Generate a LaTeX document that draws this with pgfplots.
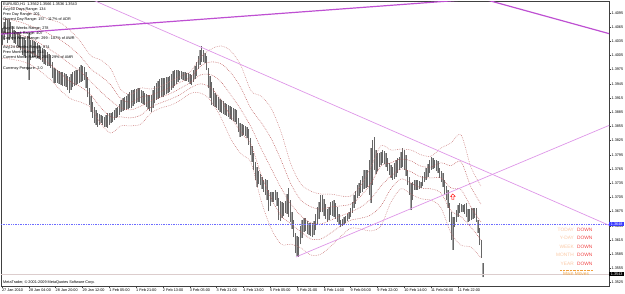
\documentclass[border=0pt]{standalone}
\usepackage{fontspec}
\setmainfont{Liberation Sans}
\usepackage{pgfplots}
\usepackage{pgfplotstable}
\pgfplotsset{compat=1.18}

\definecolor{band}{RGB}{185,80,80}
\definecolor{tlthick}{RGB}{190,80,210}
\definecolor{tlthin}{RGB}{222,150,232}
\definecolor{bidblue}{RGB}{60,60,255}
\definecolor{peach}{RGB}{250,200,165}
\definecolor{downred}{RGB}{240,70,70}
\definecolor{movesor}{RGB}{240,160,60}
\definecolor{bidline}{RGB}{220,205,205}

\newcommand{\tf}{\fontsize{3.8}{4.5}\selectfont}
\newcommand{\mf}{\fontsize{4.8}{5.5}\selectfont}

\pgfdeclareplotmark{uparrowmark}{%
  \pgfpathmoveto{\pgfpoint{0pt}{3pt}}%
  \pgfpathlineto{\pgfpoint{-2.2pt}{0.6pt}}%
  \pgfpathlineto{\pgfpoint{-1pt}{0.6pt}}%
  \pgfpathlineto{\pgfpoint{-1pt}{-2.6pt}}%
  \pgfpathlineto{\pgfpoint{1pt}{-2.6pt}}%
  \pgfpathlineto{\pgfpoint{1pt}{0.6pt}}%
  \pgfpathlineto{\pgfpoint{2.2pt}{0.6pt}}%
  \pgfpathclose
  \pgfusepathqfillstroke}

\pgfplotstableread{
i h l
0 1.4063 1.4027
1 1.4076 1.4037
2 1.4084 1.4052
3 1.4080 1.4031
4 1.4080 1.4037
5 1.4076 1.4044
6 1.4067 1.4037
7 1.4059 1.4031
8 1.4056 1.4029
9 1.4054 1.4025
10 1.4052 1.4023
11 1.4048 1.4016
12 1.4044 1.4006
13 1.4042 1.4004
14 1.4037 1.3999
15 1.4046 1.3974
16 1.4052 1.3953
17 1.4037 1.3995
18 1.4037 1.4002
19 1.4035 1.4002
20 1.4033 1.4002
21 1.4031 1.3999
22 1.4027 1.3997
23 1.4023 1.3995
24 1.4021 1.3991
25 1.4018 1.3987
26 1.4016 1.3985
27 1.4012 1.3983
28 1.4008 1.3983
29 1.4006 1.3978
30 1.3991 1.3957
31 1.3978 1.3947
32 1.3976 1.3947
33 1.3974 1.3947
34 1.3972 1.3945
35 1.3970 1.3942
36 1.3970 1.3940
37 1.3968 1.3940
38 1.3966 1.3938
39 1.3961 1.3932
40 1.3959 1.3925
41 1.3966 1.3932
42 1.3970 1.3938
43 1.3972 1.3940
44 1.3974 1.3942
45 1.3974 1.3945
46 1.3980 1.3947
47 1.3985 1.3949
48 1.3983 1.3951
49 1.3980 1.3953
50 1.3970 1.3936
51 1.3959 1.3917
52 1.3936 1.3900
53 1.3919 1.3885
54 1.3906 1.3873
55 1.3896 1.3862
56 1.3890 1.3858
57 1.3883 1.3854
58 1.3881 1.3858
59 1.3879 1.3862
60 1.3877 1.3858
61 1.3875 1.3854
62 1.3879 1.3854
63 1.3883 1.3852
64 1.3883 1.3858
65 1.3883 1.3862
66 1.3885 1.3864
67 1.3890 1.3868
68 1.3894 1.3873
69 1.3896 1.3875
70 1.3902 1.3879
71 1.3911 1.3885
72 1.3915 1.3887
73 1.3917 1.3890
74 1.3919 1.3890
75 1.3923 1.3892
76 1.3928 1.3894
77 1.3932 1.3894
78 1.3932 1.3898
79 1.3934 1.3902
80 1.3934 1.3904
81 1.3936 1.3906
82 1.3936 1.3906
83 1.3932 1.3904
84 1.3930 1.3902
85 1.3925 1.3900
86 1.3923 1.3896
87 1.3921 1.3892
88 1.3921 1.3887
89 1.3921 1.3885
90 1.3932 1.3894
91 1.3940 1.3904
92 1.3947 1.3911
93 1.3951 1.3913
94 1.3955 1.3915
95 1.3957 1.3917
96 1.3957 1.3917
97 1.3957 1.3921
98 1.3959 1.3923
99 1.3959 1.3925
100 1.3961 1.3928
101 1.3966 1.3932
102 1.3972 1.3936
103 1.3974 1.3940
104 1.3974 1.3945
105 1.3974 1.3949
106 1.3972 1.3953
107 1.3972 1.3955
108 1.3970 1.3953
109 1.3970 1.3951
110 1.3968 1.3951
111 1.3968 1.3949
112 1.3966 1.3945
113 1.3964 1.3942
114 1.3974 1.3949
115 1.3983 1.3955
116 1.3991 1.3961
117 1.4004 1.3976
118 1.4016 1.3985
119 1.4025 1.3991
120 1.4016 1.3991
121 1.4010 1.3989
122 1.4004 1.3974
123 1.3978 1.3936
124 1.3961 1.3915
125 1.3949 1.3900
126 1.3936 1.3898
127 1.3925 1.3896
128 1.3921 1.3894
129 1.3917 1.3890
130 1.3913 1.3885
131 1.3911 1.3883
132 1.3909 1.3881
133 1.3904 1.3879
134 1.3902 1.3877
135 1.3900 1.3875
136 1.3898 1.3871
137 1.3896 1.3868
138 1.3894 1.3866
139 1.3892 1.3864
140 1.3890 1.3860
141 1.3873 1.3843
142 1.3862 1.3833
143 1.3860 1.3835
144 1.3858 1.3837
145 1.3856 1.3835
146 1.3854 1.3830
147 1.3849 1.3816
148 1.3830 1.3794
149 1.3813 1.3780
150 1.3799 1.3763
151 1.3780 1.3742
152 1.3769 1.3727
153 1.3761 1.3733
154 1.3754 1.3731
155 1.3748 1.3723
156 1.3742 1.3716
157 1.3744 1.3710
158 1.3742 1.3699
159 1.3721 1.3676
160 1.3716 1.3687
161 1.3716 1.3695
162 1.3716 1.3695
163 1.3721 1.3699
164 1.3716 1.3687
165 1.3704 1.3657
166 1.3697 1.3655
167 1.3695 1.3661
168 1.3693 1.3666
169 1.3697 1.3672
170 1.3712 1.3670
171 1.3725 1.3663
172 1.3699 1.3653
173 1.3674 1.3638
174 1.3657 1.3621
175 1.3630 1.3587
176 1.3623 1.3581
177 1.3621 1.3579
178 1.3644 1.3606
179 1.3657 1.3619
180 1.3661 1.3632
181 1.3661 1.3634
182 1.3655 1.3628
183 1.3651 1.3625
184 1.3651 1.3623
185 1.3651 1.3621
186 1.3655 1.3625
187 1.3670 1.3636
188 1.3685 1.3649
189 1.3695 1.3659
190 1.3710 1.3674
191 1.3710 1.3674
192 1.3702 1.3666
193 1.3691 1.3659
194 1.3680 1.3653
195 1.3685 1.3657
196 1.3695 1.3668
197 1.3697 1.3666
198 1.3699 1.3663
199 1.3693 1.3659
200 1.3685 1.3653
201 1.3670 1.3647
202 1.3657 1.3642
203 1.3659 1.3644
204 1.3663 1.3647
205 1.3666 1.3651
206 1.3670 1.3655
207 1.3674 1.3659
208 1.3683 1.3663
209 1.3695 1.3672
210 1.3710 1.3683
211 1.3718 1.3691
212 1.3731 1.3704
213 1.3735 1.3708
214 1.3742 1.3714
215 1.3750 1.3716
216 1.3763 1.3723
217 1.3763 1.3725
218 1.3763 1.3727
219 1.3784 1.3710
220 1.3809 1.3693
221 1.3826 1.3731
222 1.3833 1.3763
223 1.3805 1.3754
224 1.3799 1.3761
225 1.3799 1.3769
226 1.3801 1.3773
227 1.3805 1.3778
228 1.3803 1.3775
229 1.3799 1.3769
230 1.3788 1.3761
231 1.3778 1.3752
232 1.3773 1.3746
233 1.3769 1.3742
234 1.3778 1.3744
235 1.3784 1.3748
236 1.3788 1.3756
237 1.3790 1.3763
238 1.3801 1.3767
239 1.3809 1.3769
240 1.3805 1.3763
241 1.3794 1.3750
242 1.3763 1.3731
243 1.3748 1.3710
244 1.3735 1.3678
245 1.3737 1.3699
246 1.3742 1.3721
247 1.3742 1.3721
248 1.3742 1.3721
249 1.3740 1.3723
250 1.3737 1.3725
251 1.3750 1.3729
252 1.3759 1.3737
253 1.3767 1.3742
254 1.3775 1.3748
255 1.3784 1.3756
256 1.3790 1.3763
257 1.3788 1.3765
258 1.3784 1.3767
259 1.3784 1.3761
260 1.3782 1.3756
261 1.3767 1.3746
262 1.3761 1.3737
263 1.3756 1.3727
264 1.3742 1.3710
265 1.3729 1.3699
266 1.3721 1.3683
267 1.3693 1.3653
268 1.3674 1.3615
269 1.3663 1.3594
270 1.3663 1.3642
271 1.3678 1.3653
272 1.3689 1.3663
273 1.3693 1.3672
274 1.3691 1.3674
275 1.3689 1.3674
276 1.3691 1.3670
277 1.3693 1.3663
278 1.3680 1.3653
279 1.3680 1.3655
280 1.3683 1.3657
281 1.3683 1.3659
282 1.3683 1.3661
283 1.3683 1.3653
284 1.3657 1.3630
285 1.3640 1.3604
286 1.3615 1.3577
287 1.3566 1.3536
}\bars

\pgfplotstableread{
i u2 u1 m l1 l2
0 1.4109 1.4082 1.4054 1.4027 1.3999
5.4 1.4107 1.4080 1.4052 1.4025 1.3997
11.3 1.4103 1.4075 1.4048 1.4021 1.3993
17.3 1.4094 1.4067 1.4040 1.4012 1.3985
23.3 1.4088 1.4059 1.4029 1.3999 1.3970
29.2 1.4080 1.4048 1.4016 1.3985 1.3953
35.2 1.4073 1.4037 1.4002 1.3966 1.3930
41.2 1.4056 1.4021 1.3985 1.3949 1.3913
47.1 1.4033 1.4002 1.3970 1.3938 1.3906
53.1 1.4004 1.3976 1.3949 1.3921 1.3894
59.1 1.3995 1.3961 1.3928 1.3894 1.3860
65.0 1.3976 1.3942 1.3909 1.3875 1.3841
71.0 1.3932 1.3913 1.3894 1.3875 1.3856
77.0 1.3923 1.3906 1.3890 1.3873 1.3856
82.9 1.3936 1.3917 1.3898 1.3879 1.3860
88.9 1.3934 1.3921 1.3909 1.3896 1.3883
94.9 1.3940 1.3929 1.3917 1.3905 1.3894
100.8 1.3951 1.3938 1.3925 1.3913 1.3900
106.8 1.3961 1.3949 1.3936 1.3923 1.3911
112.8 1.3972 1.3960 1.3949 1.3937 1.3925
118.7 1.4002 1.3983 1.3964 1.3945 1.3925
124.7 1.4018 1.3991 1.3964 1.3936 1.3909
130.7 1.4025 1.3987 1.3949 1.3911 1.3873
136.6 1.4014 1.3968 1.3921 1.3875 1.3828
142.6 1.3983 1.3936 1.3890 1.3843 1.3797
148.6 1.3930 1.3892 1.3854 1.3816 1.3778
154.5 1.3919 1.3864 1.3809 1.3754 1.3699
160.5 1.3894 1.3830 1.3767 1.3704 1.3640
166.5 1.3843 1.3784 1.3725 1.3666 1.3606
172.4 1.3775 1.3733 1.3691 1.3649 1.3606
178.4 1.3733 1.3699 1.3666 1.3632 1.3598
184.4 1.3718 1.3685 1.3651 1.3617 1.3583
190.3 1.3712 1.3680 1.3649 1.3617 1.3585
196.3 1.3712 1.3685 1.3657 1.3630 1.3602
202.3 1.3708 1.3687 1.3666 1.3645 1.3623
208.2 1.3708 1.3691 1.3674 1.3657 1.3640
214.2 1.3731 1.3708 1.3685 1.3661 1.3638
220.2 1.3769 1.3735 1.3702 1.3668 1.3634
226.1 1.3814 1.3771 1.3729 1.3687 1.3645
232.1 1.3805 1.3778 1.3750 1.3723 1.3695
238.1 1.3807 1.3786 1.3765 1.3744 1.3723
244.0 1.3805 1.3782 1.3759 1.3735 1.3712
250.0 1.3795 1.3771 1.3748 1.3725 1.3702
256.0 1.3792 1.3769 1.3746 1.3723 1.3699
261.9 1.3809 1.3778 1.3746 1.3714 1.3683
267.9 1.3820 1.3772 1.3725 1.3677 1.3630
273.9 1.3837 1.3780 1.3721 1.3664 1.3604
279.8 1.3769 1.3727 1.3685 1.3642 1.3600
285.8 1.3729 1.3691 1.3653 1.3615 1.3577
}\bands

\begin{document}
\begin{tikzpicture}
\begin{axis}[
  at={(1pt,7pt)}, anchor=south west,
  scale only axis, width=608pt, height=285pt,
  xmin=-0.6, xmax=362.2, ymin=1.35177, ymax=1.41199,
  clip mode=individual,
  axis line style={draw=black!75, line width=0.6pt},
  tick style={draw=black!75, line width=0.4pt},
  major tick length=1.8pt, tick align=outside,
  xtick pos=bottom, ytick pos=right, yticklabel pos=right,
  xtick={0,16,32,48,64,80,96,112,128,144,160,176,192,208,224,240,256,272},
  xticklabels={27 Jan 2010,28 Jan 04:00,28 Jan 20:00,29 Jan 12:00,1 Feb 05:00,1 Feb 21:00,2 Feb 13:00,3 Feb 05:00,3 Feb 21:00,4 Feb 13:00,5 Feb 05:00,5 Feb 21:00,8 Feb 14:00,9 Feb 06:00,9 Feb 22:00,10 Feb 14:00,11 Feb 06:00,11 Feb 22:00},
  x tick label style={font=\tf, anchor=north west, inner sep=0.4pt, xshift=-0.5pt},
  ytick={1.3525,1.3555,1.3585,1.3615,1.3645,1.3675,1.3705,1.3735,1.3765,1.3795,1.3825,1.3855,1.3885,1.3915,1.3945,1.3975,1.4005,1.4035,1.4065,1.4095},
  scaled y ticks=false,
  y tick label style={font=\tf, inner sep=0.6pt, /pgf/number format/fixed, /pgf/number format/precision=4, /pgf/number format/fixed zerofill, /pgf/number format/assume math mode=true},
]
% price bars
\addplot[forget plot, draw=none, mark=none,
  error bars/.cd, y dir=plus, y explicit, error mark=none,
  error bar style={draw=black!35, line width=1.0pt}]
  table[x=i, y=l, y error plus expr=\thisrow{h}-\thisrow{l}]{\bars};
\addplot[forget plot, draw=none, mark=none,
  error bars/.cd, y dir=plus, y explicit, error mark=none,
  error bar style={draw=black!60, line width=0.3pt}]
  table[x=i, y=l, y error plus expr=\thisrow{h}-\thisrow{l}]{\bars};
% bands
\addplot[band!80, smooth, line width=0.5pt, dash pattern=on 0.7pt off 1.1pt] table[x=i,y=u2]{\bands};
\addplot[band, smooth, line width=0.5pt, dash pattern=on 0.7pt off 1.1pt] table[x=i,y=u1]{\bands};
\addplot[band, smooth, line width=0.5pt, dash pattern=on 0.7pt off 1.1pt] table[x=i,y=m]{\bands};
\addplot[band, smooth, line width=0.5pt, dash pattern=on 0.7pt off 1.1pt] table[x=i,y=l1]{\bands};
\addplot[band!80, smooth, line width=0.5pt, dash pattern=on 0.7pt off 1.1pt] table[x=i,y=l2]{\bands};
% horizontal lines
\addplot[bidline, line width=0.5pt] coordinates {(-0.6,1.3543) (362.2,1.3543)};
\addplot[bidblue!75, line width=0.4pt, dash pattern=on 0.7pt off 1pt] coordinates {(-0.6,1.3648) (362.2,1.3648)};
% trend lines
\addplot[tlthin, line width=0.7pt] coordinates {(54.3,1.4122) (362.2,1.3646)};
\addplot[tlthin, line width=0.7pt] coordinates {(175.4,1.3579) (362.2,1.3857)};
\addplot[tlthick, line width=1.2pt] coordinates {(-0.6,1.4050) (275,1.4122)};
\addplot[tlthick, line width=1.2pt] coordinates {(289.4,1.4122) (362.2,1.4051)};
% arrow
\addplot[only marks, mark=uparrowmark, mark options={draw=red, fill=white, line width=0.45pt}] coordinates {(269,1.3706)};
% price boxes
\node[anchor=west, fill=bidblue, text=white, font=\tf, inner sep=0.6pt, minimum width=15pt] at (axis cs:362.2,1.3648) {1.3648};
\node[anchor=west, fill=black, text=white, font=\tf, inner sep=0.6pt, minimum width=15pt] at (axis cs:362.2,1.3543) {1.3543};
\end{axis}
% info text (top-left)
\begin{scope}[every node/.style={anchor=west, font=\tf, inner sep=0pt, text=black}]
\node at (3pt,289pt) {EURUSD,H1\ \ 1.3562 1.3566 1.3536 1.3543};
\node at (3pt,283.7pt) {Avg 60 Days Range: 134};
\node at (3pt,278.7pt) {Prev Day Range: 201};
\node at (3pt,273.8pt) {Current Day Range: 157 - 117\% of ADR};
\node at (3pt,264.7pt) {Avg 56 Weeks Range: 278};
\node at (3pt,259.7pt) {Prev Week Range: 407};
\node at (3pt,254.7pt) {Current Week Range: 299 - 107\% of AWR};
\node at (3pt,245pt) {Avg 24 Months Range: 874};
\node at (3pt,240pt) {Prev Month Range: 714};
\node at (3pt,235pt) {Current Month Range: 255 - 29\% of AMR};
\node at (3pt,224pt) {Currency Pressure: 2.0};
\node at (3pt,10.3pt) {MetaTrader, © 2001-2009 MetaQuotes Software Corp.};
\end{scope}
% direction panel
\begin{scope}[every node/.style={font=\mf, inner sep=0pt}]
\node[anchor=east, text=peach] at (574pt,63.5pt) {TODAY};
\node[anchor=east, text=peach] at (574pt,55pt) {Y-DAY};
\node[anchor=east, text=peach] at (574pt,46.5pt) {WEEK};
\node[anchor=east, text=peach] at (574pt,38pt) {MONTH};
\node[anchor=east, text=peach] at (574pt,29.5pt) {YEAR};
\node[anchor=west, text=downred] at (577pt,63.5pt) {DOWN};
\node[anchor=west, text=downred] at (577pt,55pt) {DOWN};
\node[anchor=west, text=downred] at (577pt,46.5pt) {DOWN};
\node[anchor=west, text=downred] at (577pt,38pt) {DOWN};
\node[anchor=west, text=downred] at (577pt,29.5pt) {DOWN};
\node[anchor=center, text=movesor] at (576pt,19pt) {Main Moves};
\end{scope}
\draw[movesor, line width=0.6pt, dash pattern=on 0.6pt off 0.8pt] (560pt,22.3pt) -- (593pt,22.3pt);
\pgfresetboundingbox
\path[use as bounding box] (0pt,0pt) rectangle (625pt,293pt);
\end{tikzpicture}
\end{document}
